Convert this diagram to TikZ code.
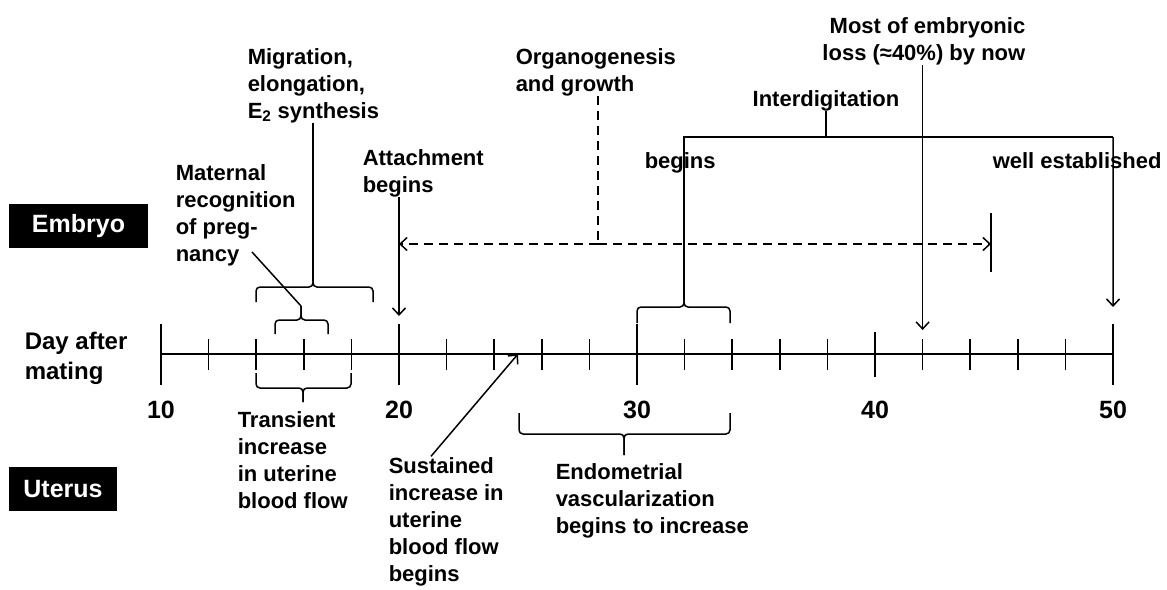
\documentclass[tikz,border=0pt]{standalone}
\usepackage{fontspec}
\setmainfont{Liberation Sans}
\usetikzlibrary{arrows.meta}
\begin{document}
\begin{tikzpicture}[
    x=1pt, y=-1pt, line width=1.5pt,
    lbl/.style={font=\bfseries\fontsize{22}{27}\selectfont, align=left, inner sep=0pt, anchor=base west},
    blackbox/.style={fill=black, text=white, font=\bfseries\fontsize{25}{29}\selectfont, inner sep=0pt},
    num/.style={font=\bfseries\fontsize{25}{30}\selectfont, inner sep=0pt, anchor=base},
    arr/.style={-{Straight Barb[length=7pt,width=13pt]}},
    dsh/.style={dash pattern=on 9pt off 6pt},
    brk/.style={rounded corners=4pt},
]
\useasboundingbox (0,0) rectangle (1167,589);
% row labels
\node[blackbox, minimum width=139pt, minimum height=44pt] (embryo) at (78.5,226) {Embryo};
\node[blackbox, minimum width=108pt, minimum height=44pt] (uterus) at (63,489) {Uterus};
\node[lbl, font=\bfseries\fontsize{24}{30}\selectfont] (daylbl) at (24,379) {Day after\\mating};
% time axis
\foreach \d in {10,...,50}
    \coordinate (t\d) at ({23.8*\d-77},354);
\draw (t10) -- (t50);
\foreach \d in {12,14,16,18,22,24,26,28,32,34,36,38,42,44,46,48}
    \draw (t\d) ++(0,-15) -- ++(0,31);
\foreach \d in {10,20,30,50}
    \draw (t\d) ++(0,-30) -- ++(0,61);
\draw (t40) ++(0,-22) -- ++(0,45);
\foreach \d in {10,20,30,40,50}
    \node[num] (n\d) at ([yshift=-64pt]t\d) {\d};
% embryo events
\node[lbl] (migr) at (247,118) {Migration,\\elongation,\\E\textsubscript{2} synthesis};
\node[lbl] (matrec) at (175,261) {Maternal\\recognition\\of preg-\\nancy};
\node[lbl] (attach) at (362,192) {Attachment\\begins};
\node[lbl] (organo) at (515,91) {Organogenesis\\and growth};
\node[lbl, align=right, anchor=base east] (loss) at (1026,60) {Most of embryonic\\loss (≈40\%) by now};
\node[lbl, anchor=base] (interd) at (826,106) {Interdigitation};
\node[lbl] (idbeg) at (644,168) {begins};
\node[lbl] (idwell) at (992,168) {well established};
\coordinate (mbr) at (313,281);
\coordinate (mrtip) at (301,306);
\coordinate (mrs) at (252,252);
\coordinate (og) at (598,244);
\coordinate (bar) at (991,244);
\coordinate (bgtip) at (684,300);
\coordinate (idl) at (684,137);
\coordinate (idr) at (1113,137);
\draw[brk] (256,302) |- (313,287) -- (mbr);
\draw[brk] (373,302) |- (313,287) -- (mbr);
\draw (mbr) -- (migr.south -| mbr);
\draw[brk] (275,334) |- (301,320) -- (mrtip);
\draw[brk] (328,334) |- (301,320) -- (mrtip);
\draw (mrs) -- (mrtip);
\draw[arr] (attach.south -| t20) -- ([yshift=38pt]t20);
\draw[dsh] (organo.south -| og) -- (og);
\draw[dsh, arr] (og) -- (og -| t20);
\draw[dsh, arr] (og) -- (bar);
\draw ([yshift=31pt]bar) -- ([yshift=-28pt]bar);
\draw[brk] (637,323) |- (684,307) -- (bgtip);
\draw[brk] (730,323) |- (684,307) -- (bgtip);
\draw (bgtip) -- (idl) -- (idr);
\draw (interd.south) -- (interd.south |- idl);
\draw[arr] (idr) -- ([yshift=47pt]t50);
\draw[arr] (loss.south -| t42) -- ([yshift=24pt]t42);
% uterus events
\node[lbl] (trans) at (237,508) {Transient\\increase\\in uterine\\blood flow};
\node[lbl] (sust) at (388,581) {Sustained\\increase in\\uterine\\blood flow\\begins};
\node[lbl] (endo) at (555,533) {Endometrial\\vascularization\\begins to increase};
\draw[brk] (256,373) |- (303,388) -- (303,402);
\draw[brk] (351,373) |- (303,388) -- (303,402);
\draw[arr] ([xshift=43pt]sust.north west) -- (t25);
\draw[brk] (519,413) |- (624,434) -- (624,455);
\draw[brk] (730,413) |- (624,434) -- (624,455);
\end{tikzpicture}
\end{document}
